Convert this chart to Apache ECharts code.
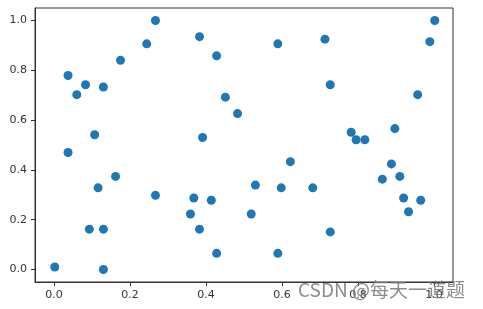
<!DOCTYPE html>
<html>
<head>
<meta charset="utf-8">
<script src="https://cdn.jsdelivr.net/npm/echarts@6/dist/echarts.min.js"></script>
<style>
html,body{margin:0;padding:0;background:#fff;}
#chart{width:483px;height:309px;}
</style>
</head>
<body>
<div id="chart"></div>
<script>
const xValues = [0.037,0.060,0.083,0.130,0.107,0.037,0.175,0.244,0.267,0.383,0.428,0.451,0.483,0.391,
  0.589,0.713,0.727,1.002,0.989,0.957,0.897,0.782,0.795,0.818,
  0.162,0.116,0.267,0.368,0.414,0.359,0.093,0.130,0.383,0.428,0.002,0.130,
  0.622,0.530,0.598,0.681,0.519,0.727,0.589,0.888,0.910,0.864,0.920,0.965,0.933];
const yValues = [0.779,0.702,0.742,0.733,0.541,0.470,0.840,0.906,1.000,0.935,0.858,0.692,0.626,0.530,
  0.906,0.925,0.742,1.000,0.915,0.702,0.566,0.551,0.521,0.521,
  0.374,0.328,0.298,0.287,0.278,0.223,0.162,0.162,0.162,0.065,0.010,0.000,
  0.433,0.339,0.328,0.328,0.223,0.151,0.065,0.424,0.374,0.363,0.287,0.278,0.232];
const tickValues = [0, 0.2, 0.4, 0.6, 0.8, 1.0];
const watermark = 'CSDN @每天一道题';

const points = xValues.map((x, i) => [x, yValues[i]]);
const chart = echarts.init(document.getElementById('chart'), null, {renderer: 'canvas'});
const axisCommon = {
  type: 'value', min: -0.05, max: 1.05,
  splitLine: {show: false},
  axisLine: {show: true, onZero: false, lineStyle: {color: '#333', width: 1}},
  axisTick: {show: true, inside: false, length: 4, customValues: tickValues, lineStyle: {color: '#333'}},
  axisLabel: {customValues: tickValues, color: '#333', fontSize: 11, fontFamily: 'DejaVu Sans',
    formatter: v => v.toFixed(1), margin: 8}
};
chart.setOption({
  animation: false,
  grid: {left: 35, right: 30, top: 8, bottom: 27, show: true, borderColor: '#333', borderWidth: 1, containLabel: false},
  xAxis: axisCommon,
  yAxis: axisCommon,
  series: [{
    type: 'scatter', data: points, symbolSize: 9,
    itemStyle: {color: '#1f77b4', opacity: 1}
  }],
  graphic: [{
    type: 'text', x: 298, y: 290, z: 100,
    style: {text: watermark, fill: 'rgba(120,120,120,0.85)', font: '19px "Noto Sans CJK SC", sans-serif',
      verticalAlign: 'middle', align: 'left'}
  }]
});
</script>
</body>
</html>
